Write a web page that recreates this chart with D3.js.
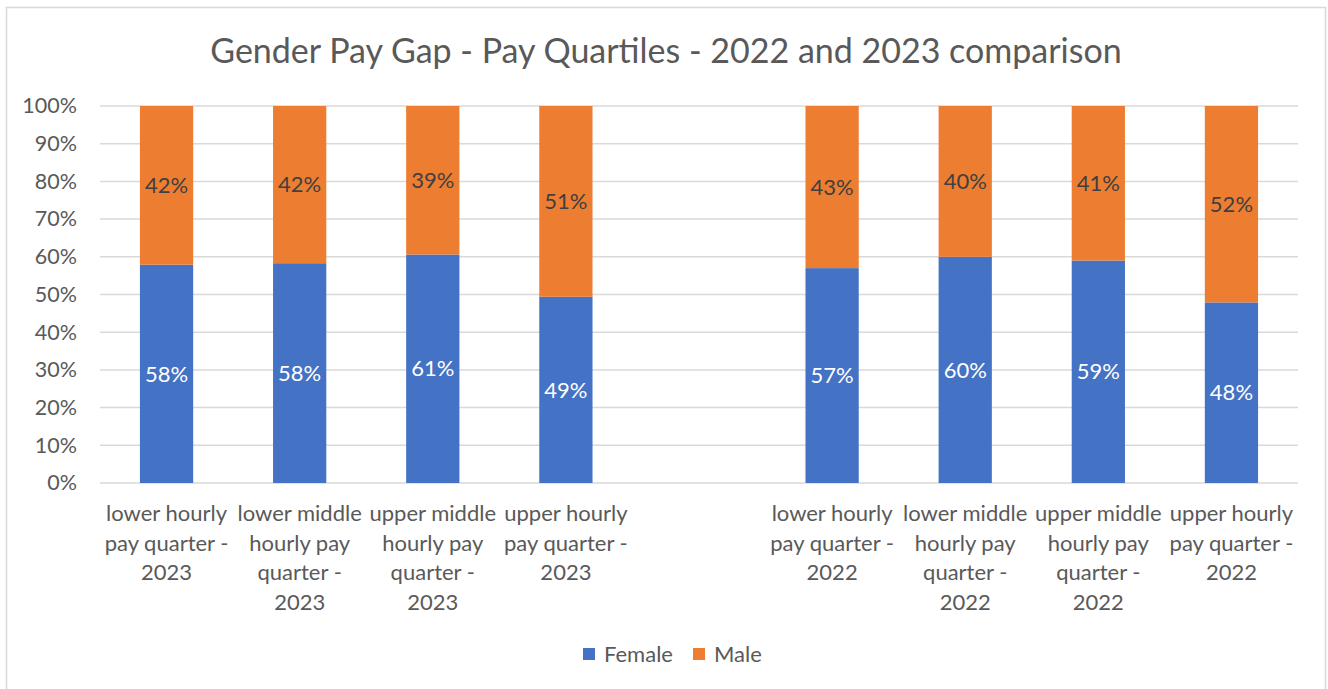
<!DOCTYPE html>
<html>
<head>
<meta charset="utf-8">
<script src="https://cdn.jsdelivr.net/npm/d3@7"></script>
<style>
  body { margin: 0; background: #fff; }
  text { font-family: Lato, "Open Sans", sans-serif; }
</style>
</head>
<body>
<div id="chart"></div>
<script>
const categories = [
  "lower hourly\npay quarter -\n2023",
  "lower middle\nhourly pay\nquarter -\n2023",
  "upper middle\nhourly pay\nquarter -\n2023",
  "upper hourly\npay quarter -\n2023",
  " ",
  "lower hourly\npay quarter -\n2022",
  "lower middle\nhourly pay\nquarter -\n2022",
  "upper middle\nhourly pay\nquarter -\n2022",
  "upper hourly\npay quarter -\n2022"
];
const female = [0.579, 0.583, 0.606, 0.494, null, 0.570, 0.600, 0.590, 0.479];
const male   = [0.421, 0.417, 0.394, 0.506, null, 0.430, 0.400, 0.410, 0.521];
const seriesNames = ["Female", "Male"];
const seriesColors = ["#4472C4", "#ED7D31"];
const labelColors = ["#ffffff", "#404040"];
const yTicks = [0, 0.1, 0.2, 0.3, 0.4, 0.5, 0.6, 0.7, 0.8, 0.9, 1];
const title = "Gender Pay Gap - Pay Quartiles - 2022 and 2023 comparison";

const W = 1328, H = 689;
const margin = { top: 106, right: 30, bottom: 206, left: 100 };

const svg = d3.select("#chart")
  .append("svg")
  .attr("width", W)
  .attr("height", H);

// chart frame
svg.append("rect")
  .attr("x", 6.5).attr("y", 7.5)
  .attr("width", 1319).attr("height", 700)
  .attr("fill", "#fff")
  .attr("stroke", "#d9d9d9")
  .attr("stroke-width", 1.5);

svg.append("text")
  .attr("x", 666)
  .attr("y", 63)
  .attr("text-anchor", "middle")
  .attr("font-size", "34px")
  .attr("fill", "#595959")
  .text(title);

const x = d3.scaleBand()
  .domain(categories)
  .range([margin.left, W - margin.right])
  .paddingInner(0.6)
  .paddingOuter(0.3);

const y = d3.scaleLinear()
  .domain([0, 1])
  .range([H - margin.bottom, margin.top]);

// gridlines
svg.append("g")
  .selectAll("line")
  .data(yTicks)
  .join("line")
  .attr("x1", margin.left)
  .attr("x2", W - margin.right)
  .attr("y1", d => y(d))
  .attr("y2", d => y(d))
  .attr("stroke", "#d9d9d9")
  .attr("stroke-width", 1.5);

// y axis labels
const yAxis = svg.append("g")
  .attr("transform", `translate(${margin.left - 23},0)`)
  .call(d3.axisLeft(y).tickValues(yTicks).tickFormat(d3.format(".0%")).tickSize(0).tickPadding(0));
yAxis.select(".domain").remove();
yAxis.selectAll("text")
  .attr("font-family", "Lato, sans-serif")
  .attr("font-size", "21.5px")
  .attr("fill", "#595959");

// x axis labels, one tspan per line
const xAxis = svg.append("g")
  .attr("transform", `translate(0,${y(0)})`)
  .call(d3.axisBottom(x).tickSize(0).tickPadding(0));
xAxis.select(".domain").remove();
xAxis.selectAll("text").each(function(d) {
  const t = d3.select(this);
  t.text(null)
    .attr("y", 0)
    .attr("dy", null)
    .attr("font-family", "Lato, sans-serif")
    .attr("font-size", "22px")
    .attr("fill", "#595959");
  d.split("\n").forEach((line, i) => {
    t.append("tspan")
      .attr("x", 0)
      .attr("y", 38 + i * 29.5)
      .text(line);
  });
});

// stacked bars
const rows = categories.map((c, i) => ({ cat: c, Female: female[i], Male: male[i] }))
  .filter(d => d.Female != null);
const stacked = d3.stack().keys(seriesNames)(rows);

const groups = svg.append("g")
  .selectAll("g")
  .data(stacked)
  .join("g")
  .attr("fill", (d, i) => seriesColors[i]);

groups.selectAll("rect")
  .data(d => d)
  .join("rect")
  .attr("x", d => x(d.data.cat))
  .attr("width", x.bandwidth())
  .attr("y", d => y(d[1]))
  .attr("height", d => y(d[0]) - y(d[1]));

groups.each(function(s, i) {
  d3.select(this).selectAll("text")
    .data(s)
    .join("text")
    .attr("x", d => x(d.data.cat) + x.bandwidth() / 2)
    .attr("y", d => y((d[0] + d[1]) / 2))
    .attr("dy", "0.35em")
    .attr("text-anchor", "middle")
    .attr("font-size", "22px")
    .attr("fill", labelColors[i])
    .text(d => d3.format(".0%")(d.data[s.key]));
});

// legend
const legend = svg.append("g")
  .attr("transform", "translate(583,648)");
const legendX = [0, 110];
seriesNames.forEach((name, i) => {
  const g = legend.append("g").attr("transform", `translate(${legendX[i]},0)`);
  g.append("rect")
    .attr("width", 12).attr("height", 12)
    .attr("fill", seriesColors[i]);
  g.append("text")
    .attr("x", 21)
    .attr("y", 6)
    .attr("dy", "0.35em")
    .attr("font-size", "22px")
    .attr("fill", "#595959")
    .text(name);
});
</script>
</body>
</html>
